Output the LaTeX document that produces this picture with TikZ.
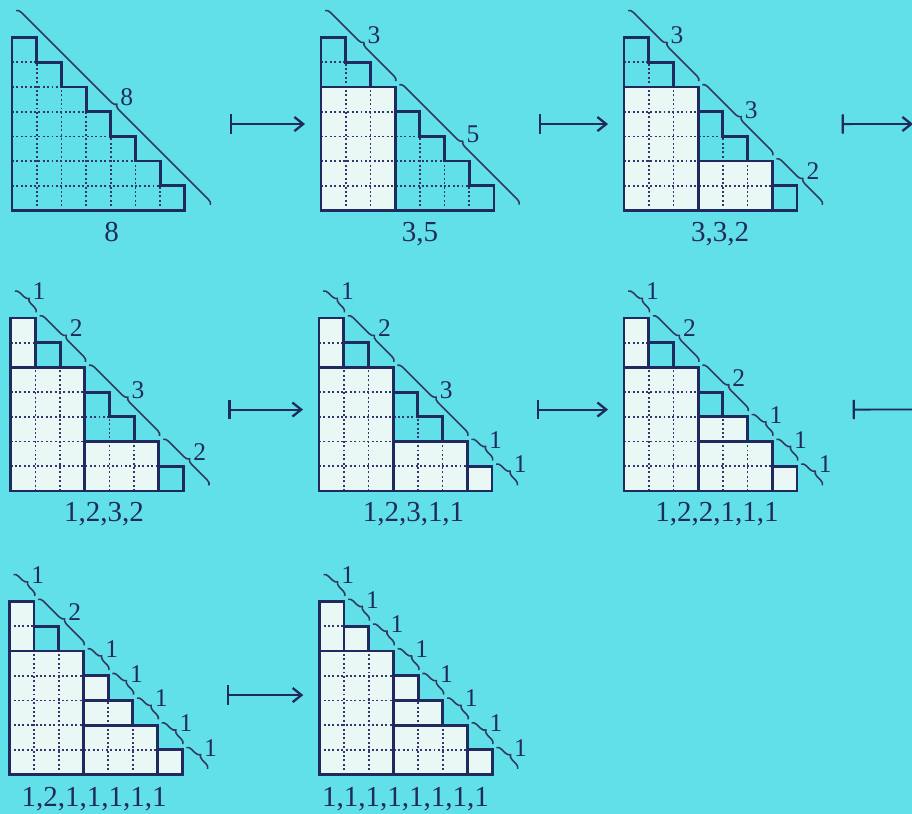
\documentclass[tikz,border=0pt]{standalone}
\usepackage{fontspec}
\setmainfont{Liberation Serif}
\usetikzlibrary{arrows.meta,decorations.pathreplacing}
\definecolor{PageCyan}{HTML}{62E0EA}
\definecolor{BlockWhite}{HTML}{E9F8F4}
\definecolor{InkNavy}{HTML}{1F2A5E}
\definecolor{DotNavy}{HTML}{34346E}
\definecolor{LineGray}{HTML}{2F3A5C}
\tikzset{
    % Outline of staircase and blocks
    stairline/.style={
        draw=InkNavy,
        line width=1.6pt
    },
    % Dotted cell lines
    gridline/.style={
        draw=DotNavy,
        line width=1pt,
        dash pattern=on 1.1pt off 1.4pt
    },
    % Filled block
    blockfill/.style={
        fill=BlockWhite
    },
    % Diagonal piece with brace
    partline/.style={
        draw=LineGray,
        line width=0.9pt,
        decorate,
        decoration={brace, amplitude=2.8pt}
    },
    % Number of a piece
    partlabel/.style={
        text=InkNavy,
        inner sep=0pt,
        font=\fontsize{14.5}{16}\selectfont
    },
    % Composition under a diagram
    complabel/.style={
        text=InkNavy,
        inner sep=0pt,
        anchor=base,
        font=\fontsize{16.5}{18}\selectfont
    },
    % Frame of one diagram
    diagnode/.style={
        minimum width=3.952cm,
        minimum height=3.458cm,
        inner sep=0pt,
        outer sep=0pt,
        anchor=south west
    },
    % Maps-to arrow
    mapsarrow/.style={
        arrows={Bar[width=11pt,line width=1.3pt]-Straight Barb[length=5pt,width=8pt,line width=1.3pt]},
        line width=1.1pt,
        draw=InkNavy,
        shorten <=0.4cm,
        shorten >=0.32cm
    }
}
\newcommand{\stairgrid}{%
    \foreach \row in {1,...,6} {\draw[gridline] (0,\row) -- ({7-\row},\row);}
    \foreach \col in {1,...,6} {\draw[gridline] (\col,0) -- (\col,{7-\col});}
    \draw[stairline] (0,0) -| (7,1) -| (6,2) -| (5,3) -| (4,4) -| (3,5) -| (2,6) -| (1,7) -| (0,0) -- cycle;
}
\newcommand{\blockfill}[1]{%
    \foreach \xa/\ya/\xb/\yb in {#1} {\fill[blockfill] (\xa,\ya) rectangle (\xb,\yb);}
}
\newcommand{\blockline}[1]{%
    \foreach \xa/\ya/\xb/\yb in {#1} {\draw[stairline] (\xa,\ya) rectangle (\xb,\yb);}
}
\newcommand{\partbraces}[2]{%
    \foreach \pa/\pb/\lab [count=\k] in {#2} {
        \draw[partline] ({\pa+0.17},{8.09-\pa}) -- ({\pb+0.03},{8.23-\pb});
        \node[partlabel] (#1p\k) at ({(\pa+\pb)/2+0.65},{8.58-(\pa+\pb)/2}) {\lab};
    }%
}
\begin{document}
\begin{tikzpicture}[x=0.02cm, y=0.02cm]
    \clip (0,0) rectangle (912,814);
    \fill[PageCyan] (0,0) rectangle (912,814);

    % frames of the eight diagrams
    \node[diagnode] (d1) at (12,603.5) {};
    \node[diagnode] (d2) at (321,603.5) {};
    \node[diagnode] (d3) at (624,603.5) {};
    \node[diagnode] (d4) at (10.7,323) {};
    \node[diagnode] (d5) at (319,323) {};
    \node[diagnode] (d6) at (624,323) {};
    \node[diagnode] (d7) at (9.3,39.5) {};
    \node[diagnode] (d8) at (319.3,39.5) {};

    % row 1
    \begin{scope}[shift={(12,603.5)}, scale=24.7]
        \stairgrid
        \partbraces{d1}{0/8/8}
    \end{scope}
    \begin{scope}[shift={(321,603.5)}, scale=24.7]
        \blockfill{0/0/3/5}
        \stairgrid
        \blockline{0/0/3/5}
        \partbraces{d2}{0/3/3, 3/8/5}
    \end{scope}
    \begin{scope}[shift={(624,603.5)}, scale=24.7]
        \blockfill{0/0/3/5, 3/0/6/2}
        \stairgrid
        \blockline{0/0/3/5, 3/0/6/2}
        \partbraces{d3}{0/3/3, 3/6/3, 6/8/2}
    \end{scope}

    % row 2
    \begin{scope}[shift={(10.7,323)}, scale=24.7]
        \blockfill{0/0/3/5, 3/0/6/2, 0/5/1/7}
        \stairgrid
        \blockline{0/0/3/5, 3/0/6/2, 0/5/1/7}
        \partbraces{d4}{0/1/1, 1/3/2, 3/6/3, 6/8/2}
    \end{scope}
    \begin{scope}[shift={(319,323)}, scale=24.7]
        \blockfill{0/0/3/5, 3/0/6/2, 0/5/1/7, 6/0/7/1}
        \stairgrid
        \blockline{0/0/3/5, 3/0/6/2, 0/5/1/7, 6/0/7/1}
        \partbraces{d5}{0/1/1, 1/3/2, 3/6/3, 6/7/1, 7/8/1}
    \end{scope}
    \begin{scope}[shift={(624,323)}, scale=24.7]
        \blockfill{0/0/3/5, 3/0/6/2, 0/5/1/7, 6/0/7/1, 3/2/5/3}
        \stairgrid
        \blockline{0/0/3/5, 3/0/6/2, 0/5/1/7, 6/0/7/1, 3/2/5/3}
        \partbraces{d6}{0/1/1, 1/3/2, 3/5/2, 5/6/1, 6/7/1, 7/8/1}
    \end{scope}

    % row 3
    \begin{scope}[shift={(9.3,39.5)}, scale=24.7]
        \blockfill{0/0/3/5, 3/0/6/2, 0/5/1/7, 6/0/7/1, 3/2/5/3, 3/3/4/4}
        \stairgrid
        \blockline{0/0/3/5, 3/0/6/2, 0/5/1/7, 6/0/7/1, 3/2/5/3, 3/3/4/4}
        \partbraces{d7}{0/1/1, 1/3/2, 3/4/1, 4/5/1, 5/6/1, 6/7/1, 7/8/1}
    \end{scope}
    \begin{scope}[shift={(319.3,39.5)}, scale=24.7]
        \blockfill{0/0/3/5, 3/0/6/2, 0/5/1/7, 6/0/7/1, 3/2/5/3, 3/3/4/4, 1/5/2/6}
        \stairgrid
        \blockline{0/0/3/5, 3/0/6/2, 0/5/1/7, 6/0/7/1, 3/2/5/3, 3/3/4/4, 1/5/2/6}
        \partbraces{d8}{0/1/1, 1/2/1, 2/3/1, 3/4/1, 4/5/1, 5/6/1, 6/7/1, 7/8/1}
    \end{scope}

    % compositions
    \node[complabel] (c1) at (111.7,572.3) {8};
    \node[complabel] (c2) at (420,572.3) {3,5};
    \node[complabel] (c3) at (720,572.3) {3,3,2};
    \node[complabel] (c4) at (104,292.3) {1,2,3,2};
    \node[complabel] (c5) at (413.5,292.3) {1,2,3,1,1};
    \node[complabel] (c6) at (717,292.3) {1,2,2,1,1,1};
    \node[complabel] (c7) at (94.2,7.3) {1,2,1,1,1,1,1};
    \node[complabel] (c8) at (405.5,7.3) {1,1,1,1,1,1,1,1};

    % arrows
    \coordinate (e1) at (913,690);
    \coordinate (e2) at (945,404.5);
    \draw[mapsarrow] (d1.east) -- (d2.west);
    \draw[mapsarrow] (d2.east) -- (d3.west);
    \draw[mapsarrow, shorten >=0pt] (d3.east) -- (e1);
    \draw[mapsarrow] ([yshift=-0.1cm]d4.east) -- ([yshift=-0.1cm]d5.west);
    \draw[mapsarrow] ([yshift=-0.1cm]d5.east) -- ([yshift=-0.1cm]d6.west);
    \draw[mapsarrow, shorten <=0.62cm, shorten >=0pt] ([yshift=-0.1cm]d6.east) -- (e2);
    \draw[mapsarrow] ([yshift=-0.14cm]d7.east) -- ([yshift=-0.14cm]d8.west);
\end{tikzpicture}
\end{document}
